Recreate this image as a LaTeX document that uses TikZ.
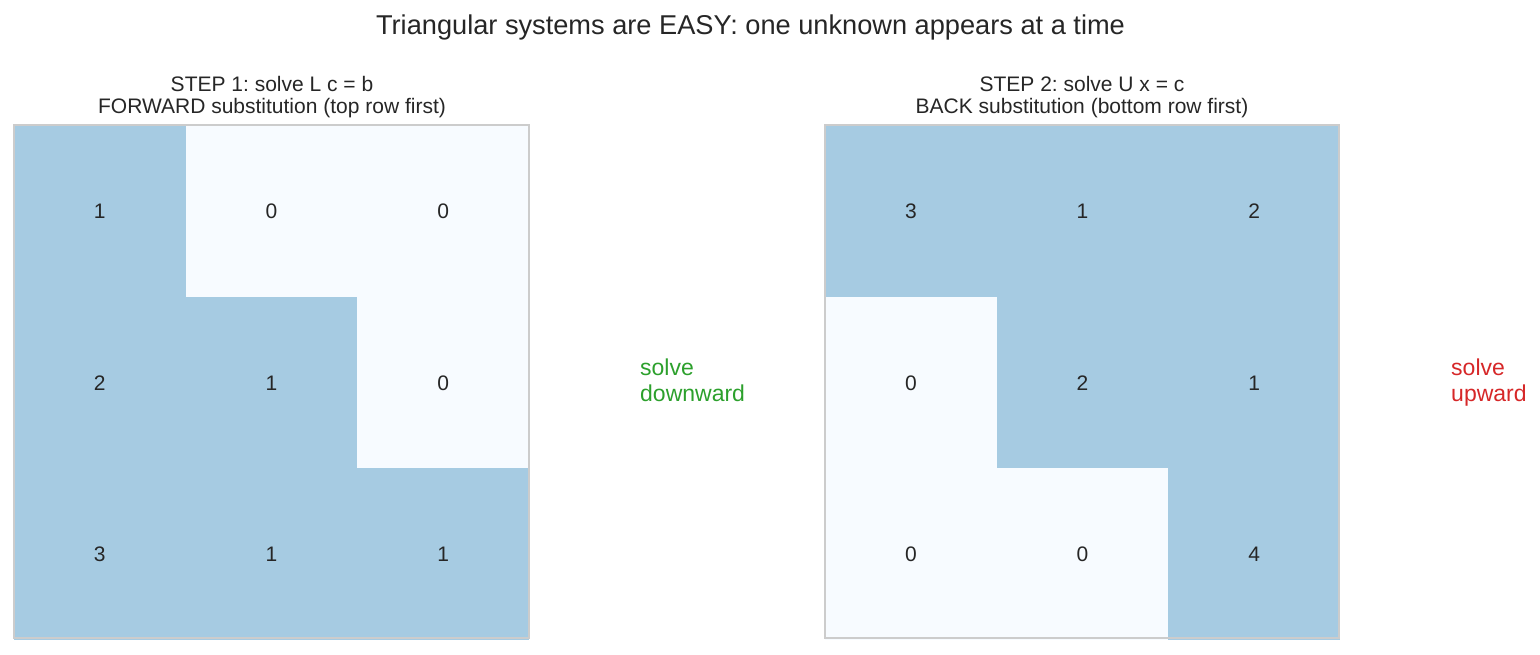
\documentclass[tikz,border=0pt]{standalone}
\usepackage{fontspec}
\setmainfont{Liberation Sans}
\frenchspacing
\definecolor{cblue}{HTML}{A6CBE2}
\definecolor{clight}{HTML}{F7FBFF}
\definecolor{cframe}{HTML}{CCCCCC}
\definecolor{ctext}{HTML}{262626}
\definecolor{cgreen}{HTML}{2CA02C}
\definecolor{cred}{HTML}{D62728}
\begin{document}
\begin{tikzpicture}[x=1pt,y=-1pt,
  cellblue/.style={fill=cblue,draw=none},
  celllight/.style={fill=clight,draw=none},
  frame/.style={draw=cframe,line width=2pt},
  num/.style={anchor=base,inner sep=0pt,text=ctext,font=\fontsize{21}{25}\selectfont},
  sub/.style={anchor=base,inner sep=0pt,text=ctext,font=\fontsize{21}{25}\selectfont},
  note/.style={anchor=base west,inner sep=0pt,font=\fontsize{23}{27}\selectfont}]
\useasboundingbox (0,0) rectangle (1540,654);
\node[anchor=base,inner sep=0pt,text=ctext,font=\fontsize{27.2}{32}\selectfont] (title) at (750.5,34) {Triangular systems are EASY: one unknown appears at a time};
\def\Lx{14}\def\Rx{825}\def\Ty{125}\def\cw{171.67}
\foreach \r/\c/\v/\s in {0/0/1/cellblue,0/1/0/celllight,0/2/0/celllight,1/0/2/cellblue,1/1/1/cellblue,1/2/0/celllight,2/0/3/cellblue,2/1/1/cellblue,2/2/1/cellblue}{
  \path[\s] (\Lx+\c*\cw,\Ty+\r*\cw) rectangle ++(\cw,\cw);
  \node[num] (L\r\c) at (\Lx+\c*\cw+0.5*\cw,\Ty+\r*\cw+0.5*\cw+7.5) {\v};
}
\foreach \r/\c/\v/\s in {0/0/3/cellblue,0/1/1/cellblue,0/2/2/cellblue,1/0/0/celllight,1/1/2/cellblue,1/2/1/cellblue,2/0/0/celllight,2/1/0/celllight,2/2/4/cellblue}{
  \path[\s] (\Rx+\c*\cw,\Ty+\r*\cw) rectangle ++(\cw,\cw);
  \node[num] (U\r\c) at (\Rx+\c*\cw+0.5*\cw,\Ty+\r*\cw+0.5*\cw+7.5) {\v};
}
\draw[frame] (14,125) rectangle (529,638);
\draw[frame] (825,125) rectangle (1339,638);
\node[sub] (s1a) at (272,91.5) {STEP 1: solve L c = b};
\node[sub] (s1b) at (272,113.5) {FORWARD substitution (top row first)};
\node[sub] (s2a) at (1082,91.5) {STEP 2: solve U x = c};
\node[sub] (s2b) at (1082,113.5) {BACK substitution (bottom row first)};
\node[note,text=cgreen] (g1) at (640,375) {solve};
\node[note,text=cgreen] (g2) at (640,401) {downward};
\node[note,text=cred] (r1) at (1451,375) {solve};
\node[note,text=cred] (r2) at (1451,401) {upward};
\end{tikzpicture}
\end{document}
